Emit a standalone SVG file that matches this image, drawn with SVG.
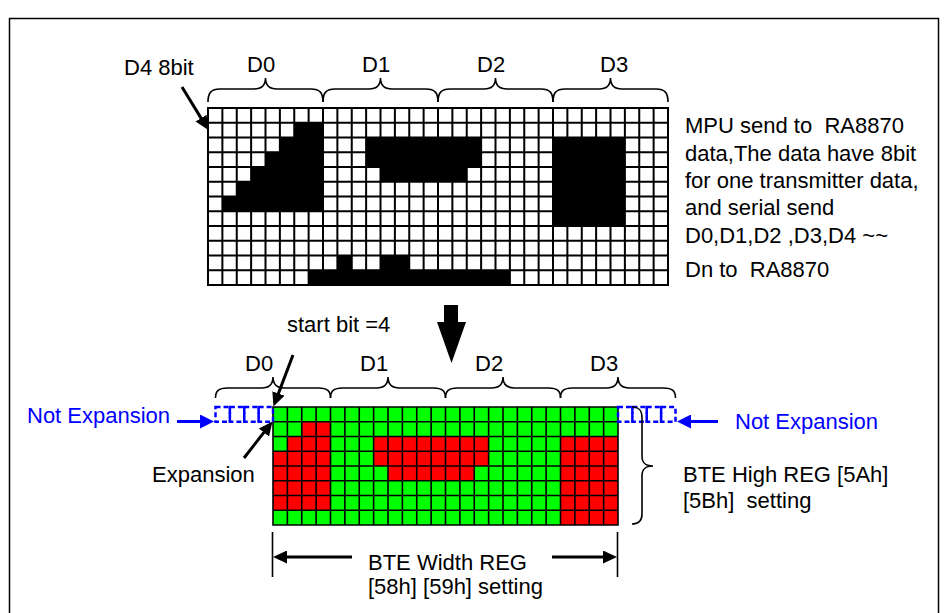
<svg xmlns="http://www.w3.org/2000/svg" width="947" height="613" viewBox="0 0 947 613">
<style>
text{font-family:"Liberation Sans",Arial,sans-serif;font-size:22px;fill:#000;white-space:pre}
text.blue{fill:#0000ff}
.grid{fill:none;stroke:#000;stroke-width:2;stroke-linecap:square}
.grid2{fill:none;stroke:#000;stroke-width:1.6;stroke-linecap:square}
.brace{fill:none;stroke:#000;stroke-width:1.6}
.arr{fill:none;stroke:#000;stroke-width:3}
.barr{fill:none;stroke:#0000ff;stroke-width:3}
.dash{fill:none;stroke:#0000ff;stroke-width:2.5;stroke-dasharray:5 3}
.blk{fill:#000}
.red{fill:#ff0000}
</style>
<defs>
<marker id="ah" viewBox="0 0 10 10" refX="5.7" refY="5" markerWidth="14" markerHeight="13" markerUnits="userSpaceOnUse" orient="auto" preserveAspectRatio="none"><path d="M0,0L10,5L0,10z" fill="#000"/></marker>
<marker id="bh" viewBox="0 0 10 10" refX="5.7" refY="5" markerWidth="14" markerHeight="14" markerUnits="userSpaceOnUse" orient="auto" preserveAspectRatio="none"><path d="M0,0L10,5L0,10z" fill="#0000ff"/></marker>
</defs>
<rect x="9.5" y="18.5" width="929" height="640" fill="#fff" stroke="#000" stroke-width="1.5"/>

<g id="top-grid">
<rect x="208" y="108" width="460" height="177" fill="#fff"/>
<rect class="blk" x="294.25" y="122.75" width="28.75" height="14.75"/>
<rect class="blk" x="279.875" y="137.5" width="43.125" height="14.75"/>
<rect class="blk" x="265.5" y="152.25" width="57.5" height="14.75"/>
<rect class="blk" x="251.125" y="167" width="71.875" height="14.75"/>
<rect class="blk" x="236.75" y="181.75" width="86.25" height="14.75"/>
<rect class="blk" x="222.375" y="196.5" width="100.625" height="14.75"/>
<rect class="blk" x="366.125" y="137.5" width="115" height="29.5"/>
<rect class="blk" x="380.5" y="167" width="86.25" height="14.75"/>
<rect class="blk" x="553" y="137.5" width="71.875" height="88.5"/>
<rect class="blk" x="337.375" y="255.5" width="14.375" height="14.75"/>
<rect class="blk" x="380.5" y="255.5" width="28.75" height="14.75"/>
<rect class="blk" x="308.625" y="270.25" width="201.25" height="14.75"/>
<path class="grid" d="M208,108V285M222.375,108V285M236.75,108V285M251.125,108V285M265.5,108V285M279.875,108V285M294.25,108V285M308.625,108V285M323,108V285M337.375,108V285M351.75,108V285M366.125,108V285M380.5,108V285M394.875,108V285M409.25,108V285M423.625,108V285M438,108V285M452.375,108V285M466.75,108V285M481.125,108V285M495.5,108V285M509.875,108V285M524.25,108V285M538.625,108V285M553,108V285M567.375,108V285M581.75,108V285M596.125,108V285M610.5,108V285M624.875,108V285M639.25,108V285M653.625,108V285M668,108V285M208,108H668M208,122.75H668M208,137.5H668M208,152.25H668M208,167H668M208,181.75H668M208,196.5H668M208,211.25H668M208,226H668M208,240.75H668M208,255.5H668M208,270.25H668M208,285H668"/>
</g>

<g id="top-braces">
<path class="brace" d="M208,102C208,93 211,89 220,89L254,89C261,89 265.5,86 265.5,78C265.5,86 270,89 277,89L311,89C320,89 323,93 323,102"/>
<path class="brace" d="M323,102C323,93 326,89 335,89L369,89C376,89 380.5,86 380.5,78C380.5,86 385,89 392,89L426,89C435,89 438,93 438,102"/>
<path class="brace" d="M438,102C438,93 441,89 450,89L484,89C491,89 495.5,86 495.5,78C495.5,86 500,89 507,89L541,89C550,89 553,93 553,102"/>
<path class="brace" d="M553,102C553,93 556,89 565,89L599,89C606,89 610.5,86 610.5,78C610.5,86 615,89 622,89L656,89C665,89 668,93 668,102"/>
<text x="247" y="72">D0</text>
<text x="362" y="72">D1</text>
<text x="477" y="72">D2</text>
<text x="600" y="72">D3</text>
<text x="124" y="75">D4 8bit</text>
</g>

<g id="mpu-text">
<text x="685" y="133">MPU send to  RA8870</text>
<text x="685" y="161">data,The data have 8bit</text>
<text x="685" y="188">for one transmitter data,</text>
<text x="685" y="215">and serial send</text>
<text x="685" y="243">D0,D1,D2 ,D3,D4 ~~</text>
<text x="685" y="277">Dn to  RA8870</text>
</g>

<g id="down-arrow">
<rect class="blk" x="444" y="305" width="14" height="18"/>
<polygon class="blk" points="437,322 466,322 451.5,363"/>
</g>

<g id="bottom-grid">
<rect x="273" y="407" width="345" height="118" fill="#00ff00"/>
<rect class="red" x="301.75" y="421.75" width="28.75" height="14.75"/>
<rect class="red" x="287.375" y="436.5" width="43.125" height="14.75"/>
<rect class="red" x="273" y="451.25" width="57.5" height="59"/>
<rect class="red" x="373.625" y="436.5" width="115" height="29.5"/>
<rect class="red" x="388" y="466" width="86.25" height="14.75"/>
<rect class="red" x="560.5" y="436.5" width="57.5" height="88.5"/>
<path class="grid2" d="M273,407V525M287.375,407V525M301.75,407V525M316.125,407V525M330.5,407V525M344.875,407V525M359.25,407V525M373.625,407V525M388,407V525M402.375,407V525M416.75,407V525M431.125,407V525M445.5,407V525M459.875,407V525M474.25,407V525M488.625,407V525M503,407V525M517.375,407V525M531.75,407V525M546.125,407V525M560.5,407V525M574.875,407V525M589.25,407V525M603.625,407V525M618,407V525M273,407H618M273,421.75H618M273,436.5H618M273,451.25H618M273,466H618M273,480.75H618M273,495.5H618M273,510.25H618M273,525H618"/>
</g>

<g id="not-expansion-left">
<rect class="dash" x="215.5" y="407" width="14.375" height="14.75"/>
<rect class="dash" x="229.875" y="407" width="14.375" height="14.75"/>
<rect class="dash" x="244.25" y="407" width="14.375" height="14.75"/>
<rect class="dash" x="258.625" y="407" width="14.375" height="14.75"/>
<text class="blue" x="27" y="423">Not Expansion</text>
</g>

<g id="not-expansion-right">
<rect class="dash" x="618" y="407" width="14.375" height="14.75"/>
<rect class="dash" x="632.375" y="407" width="14.375" height="14.75"/>
<rect class="dash" x="646.75" y="407" width="14.375" height="14.75"/>
<rect class="dash" x="661.125" y="407" width="14.375" height="14.75"/>
<text class="blue" x="735" y="429">Not Expansion</text>
</g>

<g id="bottom-braces">
<path class="brace" d="M215.5,398C215.5,391 218.5,388 227.5,388L261.5,388C268.5,388 273,385 273,377C273,385 277.5,388 284.5,388L318.5,388C327.5,388 330.5,391 330.5,398"/>
<path class="brace" d="M330.5,398C330.5,391 333.5,388 342.5,388L376.5,388C383.5,388 388,385 388,377C388,385 392.5,388 399.5,388L433.5,388C442.5,388 445.5,391 445.5,398"/>
<path class="brace" d="M445.5,398C445.5,391 448.5,388 457.5,388L491.5,388C498.5,388 503,385 503,377C503,385 507.5,388 514.5,388L548.5,388C557.5,388 560.5,391 560.5,398"/>
<path class="brace" d="M560.5,398C560.5,391 563.5,388 572.5,388L606.5,388C613.5,388 618,385 618,377C618,385 622.5,388 629.5,388L663.5,388C672.5,388 675.5,391 675.5,398"/>
<text x="245" y="371">D0</text>
<text x="360" y="371">D1</text>
<text x="475" y="371">D2</text>
<text x="590" y="371">D3</text>
<text x="287" y="332">start bit =4</text>
<text x="152" y="482">Expansion</text>
</g>

<g id="height-label">
<path class="brace" d="M632,407C639,407 642,410 642,418L642,456C642,463 645,466 653,466C645,466 642,469 642,476L642,514C642,521 639,524 632,524"/>
<text x="683" y="482">BTE High REG [5Ah]</text>
<text x="683" y="508">[5Bh]  setting</text>
</g>

<g id="width-label">
<path class="brace" d="M272.5,532V577M617.5,532V577"/>
<text x="368" y="570">BTE Width REG</text>
<text x="368" y="594">[58h] [59h] setting</text>
</g>

<g id="connectors">
<path class="arr" d="M182,87L205.2,124.9" marker-end="url(#ah)"/>
<path class="arr" d="M293,355L275.6,400.9" marker-end="url(#ah)"/>
<path class="arr" d="M244,458L268.8,426.2" marker-end="url(#ah)"/>
<path class="barr" d="M177,421.5H208" marker-end="url(#bh)"/>
<path class="barr" d="M718,421.5H683" marker-end="url(#bh)"/>
<path class="arr" d="M352,557H279" marker-end="url(#ah)"/>
<path class="arr" d="M552,557H611" marker-end="url(#ah)"/>
</g>
</svg>
